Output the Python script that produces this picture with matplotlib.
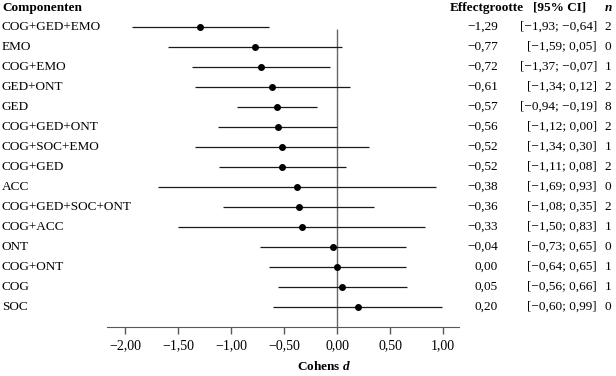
import matplotlib
matplotlib.use("Agg")
import matplotlib.pyplot as plt
import matplotlib.transforms as mtransforms

plt.rcParams['font.family'] = ['Liberation Serif', 'DejaVu Serif']
plt.rcParams['mathtext.fontset'] = 'custom'
plt.rcParams['mathtext.bf'] = 'Liberation Serif:bold:italic'

names = ["COG+GED+EMO", "EMO", "COG+EMO", "GED+ONT", "GED", "COG+GED+ONT",
         "COG+SOC+EMO", "COG+GED", "ACC", "COG+GED+SOC+ONT", "COG+ACC", "ONT",
         "COG+ONT", "COG", "SOC"]
effect = [-1.29, -0.77, -0.72, -0.61, -0.57, -0.56, -0.52, -0.52, -0.38, -0.36,
          -0.33, -0.04, 0.00, 0.05, 0.20]
ci_low = [-1.93, -1.59, -1.37, -1.34, -0.94, -1.12, -1.34, -1.11, -1.69, -1.08,
          -1.50, -0.73, -0.64, -0.56, -0.60]
ci_high = [-0.64, 0.05, -0.07, 0.12, -0.19, 0.00, 0.30, 0.08, 0.93, 0.35,
           0.83, 0.65, 0.65, 0.66, 0.99]
n_studies = [2, 0, 1, 2, 8, 2, 1, 2, 0, 2, 1, 0, 1, 1, 0]
xticks = [-2.0, -1.5, -1.0, -0.5, 0.0, 0.5, 1.0]


def fmt(v):
    s = "%.2f" % abs(v)
    s = s.replace(".", ",")
    if v < 0:
        s = "\u2212" + s
    return s


W, H = 616, 376
fig = plt.figure(figsize=(W / 100, H / 100), dpi=100)
ax = fig.add_axes([107 / W, 49 / H, 352 / W, 312 / H])

k = len(names)
ys = [k - 1 - i for i in range(k)]

ax.vlines(0, -1, 13.9, color="0.4", lw=1.0, zorder=1)
ax.hlines(ys, ci_low, ci_high, color="0.1", lw=0.9, zorder=2)
ax.plot(effect, ys, "o", color="black", ms=4, zorder=3)

ax.set_xlim(-2.17, 1.15)
ax.set_ylim(-1, 14.6)
for s in ["left", "right", "top"]:
    ax.spines[s].set_visible(False)
ax.spines["bottom"].set_color("0.35")
ax.set_yticks([])
ax.set_xticks(xticks)
ax.set_xticklabels([fmt(v) for v in xticks])
ax.tick_params(axis="x", colors="0.35", length=5, width=1, labelsize=10,
               labelcolor="black", pad=4)

tr = mtransforms.blended_transform_factory(fig.transFigure, ax.transData)
fs = 9.5
for y, nm, e, lo, hi, nn in zip(ys, names, effect, ci_low, ci_high, n_studies):
    ax.text(2 / W, y, nm, transform=tr, ha="left", va="center", fontsize=fs)
    ax.text(498 / W, y, fmt(e), transform=tr, ha="right", va="center", fontsize=fs)
    ax.text(597 / W, y, "[%s; %s]" % (fmt(lo), fmt(hi)), transform=tr,
            ha="right", va="center", fontsize=fs)
    ax.text(608 / W, y, str(nn), transform=tr, ha="center", va="center", fontsize=fs)

hy = 14.95
ax.text(2 / W, hy, "Componenten", transform=tr, ha="left", va="center",
        fontsize=fs, fontweight="bold", clip_on=False)
ax.text(524 / W, hy, "Effectgrootte", transform=tr, ha="right", va="center",
        fontsize=fs, fontweight="bold", clip_on=False)
ax.text(533 / W, hy, "[95% CI]", transform=tr, ha="left", va="center",
        fontsize=fs, fontweight="bold", clip_on=False)
ax.text(608 / W, hy, "n", transform=tr, ha="center", va="center",
        fontsize=fs, fontweight="bold", fontstyle="italic", clip_on=False)

fig.text(324 / W, 1 - 367 / H, r"Cohens $\mathbf{d}$", ha="center", va="center",
         fontsize=fs, fontweight="bold")

fig.savefig("out.png", dpi=100)
